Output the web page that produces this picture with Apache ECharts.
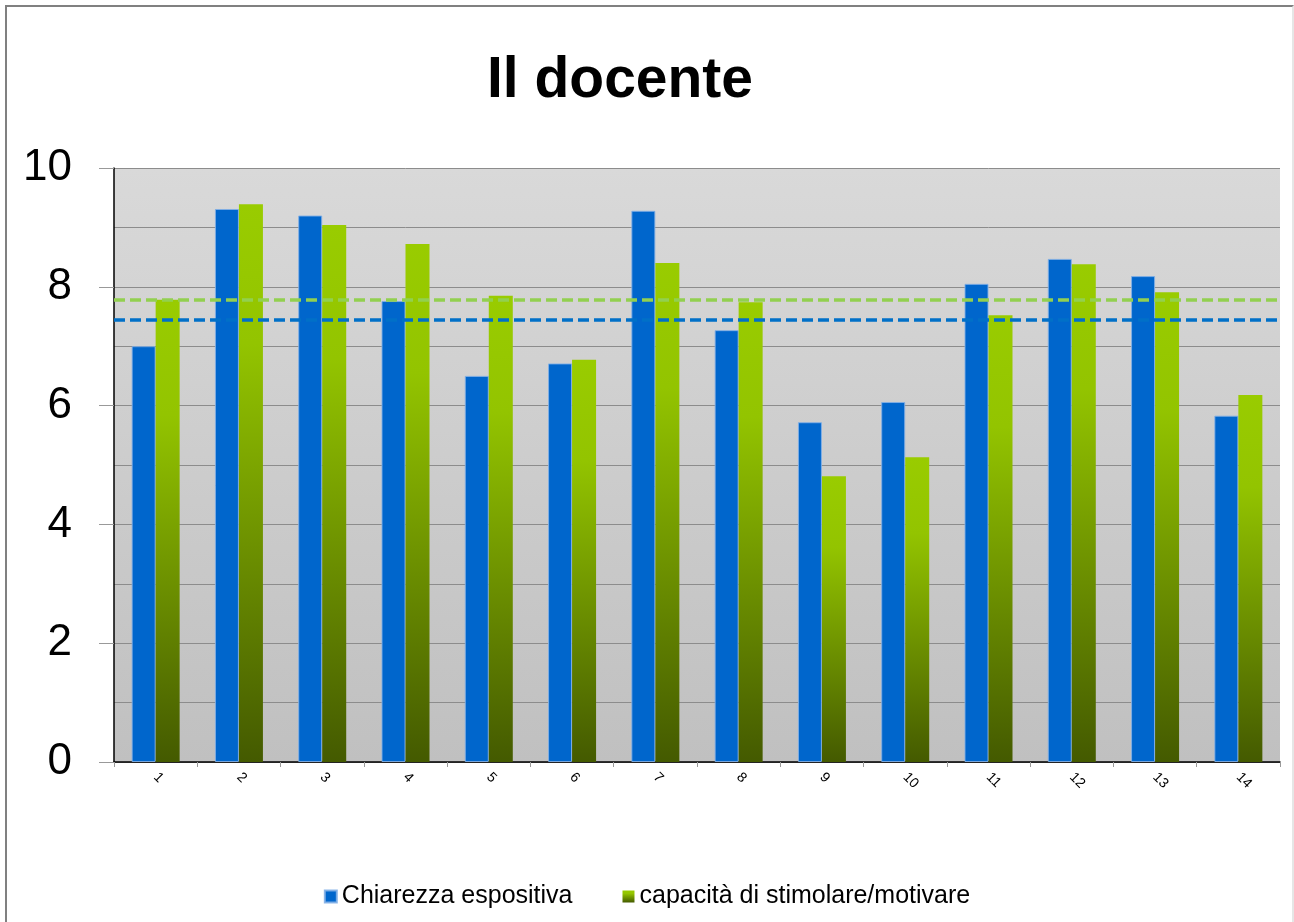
<!DOCTYPE html>
<html>
<head>
<meta charset="utf-8">
<script src="https://cdn.jsdelivr.net/npm/echarts@6/dist/echarts.min.js"></script>
<style>
  html, body { margin: 0; padding: 0; background: #fff; }
  #frame {
    position: absolute; left: 5px; top: 5px; width: 1285px; height: 930px;
    border-left: 2px solid #808080; border-top: 2px solid #808080;
    border-right: 2px solid #e6e6e6;
  }
  #chart { position: absolute; left: 0; top: 0; width: 1294px; height: 922px; }
</style>
</head>
<body>
<div id="frame"></div>
<div id="chart"></div>
<script>
const categories = ['1', '2', '3', '4', '5', '6', '7', '8', '9', '10', '11', '12', '13', '14']
const chiarezza = [7.0, 9.31, 9.2, 7.76, 6.5, 6.71, 9.28, 7.27, 5.72, 6.06, 8.05, 8.47, 8.18, 5.83]
const capacita = [7.78, 9.39, 9.04, 8.72, 7.85, 6.77, 8.4, 7.74, 4.81, 5.13, 7.52, 8.38, 7.91, 6.18]
// reference lines (dashed)
const chiarezzaRef = 7.45
const capacitaRef = 7.79

const chart = echarts.init(document.getElementById('chart'))

const greenFill = new echarts.graphic.LinearGradient(0, 0, 0, 1, [
  { offset: 0, color: '#99cc00' },
  { offset: 0.25, color: '#93c400' },
  { offset: 1, color: '#445a00' }
])

const option = {
  animation: false,
  textStyle: { fontFamily: 'Liberation Sans, Arial, sans-serif' },
  title: {
    text: 'Il docente',
    left: 482,
    top: 48,
    textStyle: { fontSize: 57, fontWeight: 'bold', color: '#000' }
  },
  legend: {
    bottom: 8,
    left: 'center',
    icon: 'rect',
    itemWidth: 12,
    itemHeight: 12,
    itemGap: 50,
    textStyle: { fontSize: 25, color: '#000', padding: [0, 0, 0, 0] },
    data: ['Chiarezza espositiva', 'capacità di stimolare/motivare']
  },
  grid: {
    left: 114,
    right: 14,
    top: 168,
    bottom: 160,
    show: true,
    borderWidth: 0,
    backgroundColor: new echarts.graphic.LinearGradient(0, 0, 0, 1, [
      { offset: 0, color: '#d9d9d9' },
      { offset: 1, color: '#c0c0c0' }
    ])
  },
  xAxis: {
    type: 'category',
    data: categories,
    axisLine: { lineStyle: { color: '#000', width: 1.5 } },
    axisTick: { show: true, length: 5, lineStyle: { color: '#999' } },
    axisLabel: { rotate: -45, fontSize: 14, color: '#000', margin: 13 }
  },
  yAxis: {
    type: 'value',
    min: 0,
    max: 10,
    interval: 2,
    axisLine: { show: true, lineStyle: { color: '#000', width: 1.5 } },
    axisTick: { show: true, length: 15, lineStyle: { color: '#999' } },
    axisLabel: { fontSize: 44, color: '#000', margin: 42 },
    splitLine: { show: true, lineStyle: { color: '#8c8c8c', width: 1 } },
    minorTick: { show: false, splitNumber: 2 },
    minorSplitLine: { show: true, lineStyle: { color: '#8c8c8c', width: 1 } }
  },
  series: [
    {
      name: 'Chiarezza espositiva',
      type: 'bar',
      data: chiarezza,
      barWidth: 24,
      barGap: '0%',
      itemStyle: { color: '#0066cc', borderColor: 'rgba(130,175,230,0.9)', borderWidth: 1 },
      markLine: {
        silent: true,
        symbol: 'none',
        label: { show: false },
        lineStyle: { color: '#0070c8', width: 3.5, type: [11, 5] },
        data: [{ yAxis: chiarezzaRef }]
      }
    },
    {
      name: 'capacità di stimolare/motivare',
      type: 'bar',
      data: capacita,
      barWidth: 24,
      itemStyle: { color: greenFill },
      markLine: {
        silent: true,
        symbol: 'none',
        label: { show: false },
        lineStyle: { color: '#92d050', width: 3.5, type: [11, 5] },
        data: [{ yAxis: capacitaRef }]
      }
    }
  ]
}

chart.setOption(option)
</script>
</body>
</html>
